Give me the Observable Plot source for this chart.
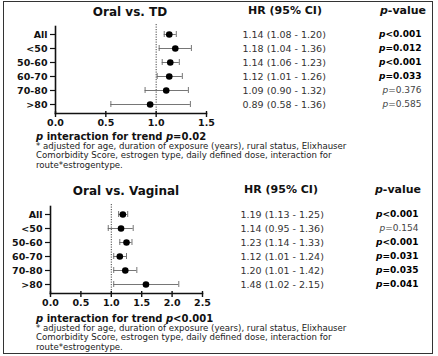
<!DOCTYPE html>
<html><head><meta charset="utf-8">
<script src="https://cdn.jsdelivr.net/npm/d3@7"></script>
<script src="https://cdn.jsdelivr.net/npm/@observablehq/plot@0.6"></script>
<style>
body{margin:0;background:#fff;}
#root{position:relative;width:438px;height:356px;overflow:hidden;background:#fff;font-family:"DejaVu Sans",sans-serif;color:#111;}
.abs{position:absolute;white-space:nowrap;line-height:1;}
.frame{position:absolute;left:3px;top:1px;width:428px;height:351px;border:1px solid #333;}
.title{font-weight:bold;font-size:12px;}
.hdr{font-weight:bold;font-size:11px;}
.fb{font-weight:bold;font-size:10px;}
.fn{font-size:8.6px;line-height:9.3px;white-space:normal;width:395px;color:#222;}
svg{position:absolute;left:0;}
</style></head>
<body><div id="root"><div class="frame"></div></div>
<script>
const groups = ["All", "<50", "50-60", "60-70", "70-80", ">80"];
// Oral vs TD
const tdEst = [1.13, 1.19, 1.14, 1.13, 1.10, 0.94];
const tdLo  = [1.08, 1.03, 1.06, 1.01, 0.89, 0.55];
const tdHi  = [1.20, 1.35, 1.23, 1.26, 1.32, 1.34];
const tdHR  = ["1.14 (1.08 - 1.20)", "1.18 (1.04 - 1.36)", "1.14 (1.06 - 1.23)", "1.12 (1.01 - 1.26)", "1.09 (0.90 - 1.32)", "0.89 (0.58 - 1.36)"];
const tdP   = ["<0.001", "=0.012", "<0.001", "=0.033", "=0.376", "=0.585"];
const tdSig = [true, true, true, true, false, false];
// Oral vs Vaginal
const vgEst = [1.19, 1.16, 1.25, 1.14, 1.23, 1.57];
const vgLo  = [1.12, 0.95, 1.14, 1.04, 1.04, 1.04];
const vgHi  = [1.27, 1.36, 1.34, 1.25, 1.42, 2.11];
const vgHR  = ["1.19 (1.13 - 1.25)", "1.14 (0.95 - 1.36)", "1.23 (1.14 - 1.33)", "1.12 (1.01 - 1.24)", "1.20 (1.01 - 1.42)", "1.48 (1.02 - 2.15)"];
const vgP   = ["<0.001", "=0.154", "<0.001", "=0.031", "=0.035", "=0.041"];
const vgSig = [true, false, true, true, true, true];

const tdTicks = [0, 0.5, 1.0, 1.5];
const vgTicks = [0, 0.5, 1.0, 1.5, 2.0, 2.5];

const root = document.getElementById("root");

function panel(opts) {
  const rows = groups.map((g, i) => ({g, est: opts.est[i], lo: opts.lo[i], hi: opts.hi[i], hr: opts.hr[i], p: opts.p[i], sig: opts.sig[i]}));
  const W = 438;
  const plot = Plot.plot({
    width: W, height: opts.height,
    marginLeft: opts.x0, marginRight: W - opts.x1,
    marginTop: opts.mt, marginBottom: opts.height - opts.mt - 84,
    style: {fontFamily: "DejaVu Sans", fontSize: "9px", fontWeight: "bold", color: "#111", background: "transparent", overflow: "visible"},
    x: {domain: opts.domain},
    y: {domain: groups, padding: 0},
    marks: [
      Plot.ruleX([1], {stroke: "#444", strokeWidth: 1, strokeDasharray: "1.2,1.3", insetTop: -3, insetBottom: -2}),
      Plot.frame({anchor: "left", stroke: "#111", strokeWidth: 1.6, insetTop: -1, insetBottom: -2}),
      Plot.frame({anchor: "bottom", stroke: "#111", strokeWidth: 1.6, insetBottom: -2}),
      Plot.axisX({ticks: opts.ticks, tickFormat: d3.format(".1f"), tickSize: 6, tickPadding: 2, label: null, stroke: "#111", strokeWidth: 1.4, fontSize: 9.5, fontWeight: "bold"}),
      Plot.axisY({tickSize: 5, tickPadding: 3, label: null, stroke: "#111", strokeWidth: 1.2, fontSize: 9.5, fontWeight: "bold"}),
      Plot.ruleY(rows, {y: "g", x1: "lo", x2: "hi", stroke: "#666", strokeWidth: 0.9}),
      Plot.tickX(rows, {y: "g", x: "lo", stroke: "#666", strokeWidth: 0.9, insetTop: 4, insetBottom: 4}),
      Plot.tickX(rows, {y: "g", x: "hi", stroke: "#666", strokeWidth: 0.9, insetTop: 4, insetBottom: 4}),
      Plot.dot(rows, {y: "g", x: "est", r: 3.3, fill: "#000", stroke: "none"}),
      Plot.text(rows, {y: "g", text: "hr", frameAnchor: "left", dx: opts.hrX - opts.x0, textAnchor: "start", fontWeight: "normal", fontSize: 9.5, fill: "#333"}),
      Plot.text(rows.filter(d => d.sig), {y: "g", text: d => "p" + d.p, frameAnchor: "right", dx: opts.pX - opts.x1, textAnchor: "end", fontWeight: "bold", fontSize: 9, fill: "#000", className: "pv"}),
      Plot.text(rows.filter(d => !d.sig), {y: "g", text: d => "p" + d.p, frameAnchor: "right", dx: opts.pX - opts.x1, textAnchor: "end", fontWeight: "normal", fontSize: 9, fill: "#444", className: "pv"})
    ]
  });
  plot.style.top = opts.top + "px";
  d3.select(plot).selectAll(".pv text").each(function() {
    const t = this.textContent;
    const sel = d3.select(this);
    sel.text(null);
    sel.append("tspan").attr("font-style", "italic").text(t[0]);
    sel.append("tspan").text(t.slice(1));
  });
  root.appendChild(plot);
}

panel({est: tdEst, lo: tdLo, hi: tdHi, hr: tdHR, p: tdP, sig: tdSig, domain: [0, 1.5], ticks: tdTicks,
  x0: 55, x1: 206, mt: 27, height: 130, top: 0, hrX: 242, pX: 421});
panel({est: vgEst, lo: vgLo, hi: vgHi, hr: vgHR, p: vgP, sig: vgSig, domain: [0, 2.5], ticks: vgTicks,
  x0: 50, x1: 202, mt: 32, height: 130, top: 175, hrX: 240, pX: 418});

function addText(cls, html, x, y, center) {
  const d = document.createElement("div");
  d.className = "abs " + cls;
  d.innerHTML = html;
  d.style.left = x + "px"; d.style.top = y + "px";
  if (center) d.style.transform = "translateX(-50%)";
  root.appendChild(d);
}
const footLines = "* adjusted for age, duration of exposure (years), rural status, Elixhauser<br>Comorbidity Score, estrogen type, daily defined dose, interaction for<br>route*estrogentype.";
addText("title", "Oral vs. TD", 130, 6, true);
addText("hdr", "HR (95% CI)", 285, 5, true);
addText("hdr", "<i>p</i>-value", 403, 5, true);
addText("fb", "<i>p</i> interaction for trend <i>p</i>=0.02", 36, 132, false);
addText("fn", footLines, 36, 142, false);

addText("title", "Oral vs. Vaginal", 126, 185, true);
addText("hdr", "HR (95% CI)", 281, 184, true);
addText("hdr", "<i>p</i>-value", 398, 184, true);
addText("fb", "<i>p</i> interaction for trend <i>p</i>&lt;0.001", 36, 314, false);
addText("fn", footLines, 36, 324, false);
</script></body></html>
